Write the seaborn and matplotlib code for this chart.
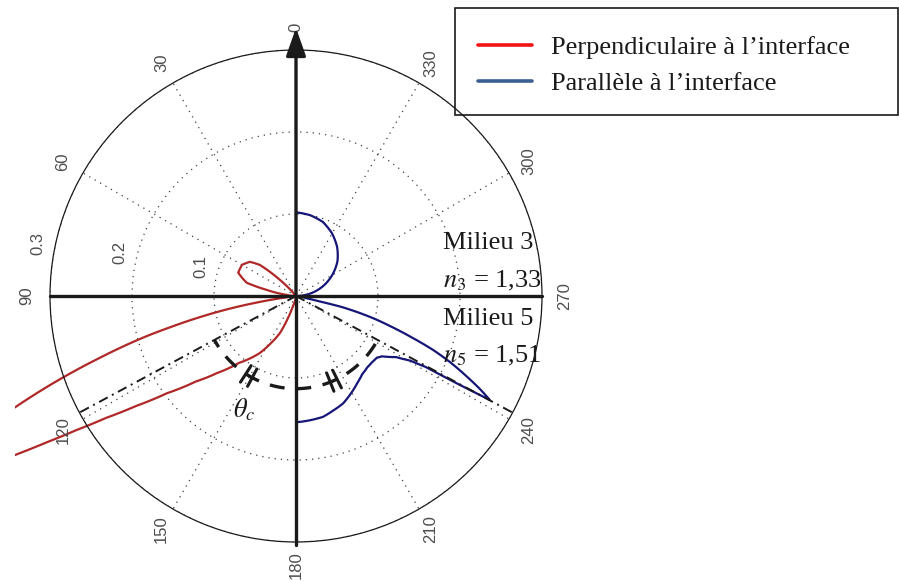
import numpy as np
import pandas as pd
import matplotlib
matplotlib.use("Agg")
import matplotlib.pyplot as plt
import seaborn as sns
from matplotlib.lines import Line2D
from matplotlib.patches import Rectangle

# Angles in degrees (0 = up, counter-clockwise), radius in polar units
red_theta = [40, 45, 49.3, 53.5, 60, 68, 75, 78.3, 83, 90, 97.9, 98.7, 99.8, 101.0,
             102.4, 103.9, 105.1, 106.4, 107.5, 109.1, 110.6, 111.6, 114, 116.5, 118,
             119.5, 120.4, 121.4, 122.7, 124.5, 127.0, 130.5, 134.3, 139.6, 147.7,
             152.0, 156.6, 160, 163.3, 170, 180]
red_r = [0.0, 0.028, 0.058, 0.070, 0.076, 0.076, 0.062, 0.036, 0.012, 0.0, 0.012,
         0.031, 0.057, 0.087, 0.120, 0.157, 0.190, 0.223, 0.251, 0.296, 0.339, 0.368,
         0.47, 0.56, 0.48, 0.394, 0.353, 0.314, 0.275, 0.237, 0.197, 0.1605, 0.1345,
         0.107, 0.082, 0.065, 0.049, 0.0286, 0.0127, 0.004, 0.0]

blue_theta = [180, 192.6, 197.8, 203.7, 208.9, 215, 220.2, 225, 229.0, 232.6, 234.9,
              238.6, 240.5, 241.3, 241.5, 241.8, 243.2, 244.7, 246.8, 248.5, 250.3,
              252.3, 253.8, 255.3, 256.6, 257.1, 258, 264, 270,
              280, 290, 300, 310, 320, 330, 340, 350, 360]
blue_r = [0.154, 0.151, 0.147, 0.143, 0.137, 0.130, 0.125, 0.123, 0.123, 0.124, 0.128,
          0.143, 0.160, 0.180, 0.225, 0.268, 0.251, 0.231, 0.204, 0.180, 0.150,
          0.120, 0.100, 0.077, 0.055, 0.030, 0.012, 0.004, 0.0,
          0.018, 0.035, 0.051, 0.066, 0.078, 0.088, 0.096, 0.100, 0.102]

theta_c = 61.7          # critical angle (deg)
arc_r = 0.113
ring_values = [0.1, 0.2, 0.3]
ring_labels = ["0.1", "0.2", "0.3"]
ring_label_angles = [73, 76, 78.4]
angle_ticks = list(range(0, 360, 30))
legend_labels = ["Perpendiculaire à l’interface", "Parallèle à l’interface"]

W, H = 899, 581
def fx(px):
    return px / W
def fy(py):
    return 1 - py / H

sns.set_theme(style="white")
plt.rcParams["font.family"] = ["Liberation Sans", "DejaVu Sans"]
plt.rcParams["mathtext.fontset"] = "stix"
plt.rcParams["text.color"] = "k"

fig = plt.figure(figsize=(W / 100, H / 100), dpi=100)
R = 246
ax = fig.add_axes([fx(296 - R), fy(296 + R), 2 * R / W, 2 * R / H], projection="polar")
ax.set_theta_zero_location("N")
ax.set_theta_direction(1)
ax.set_facecolor("none")

# curves
red_df = pd.DataFrame({"theta": np.deg2rad(red_theta), "r": red_r})
blue_df = pd.DataFrame({"theta": np.deg2rad(blue_theta), "r": blue_r})
sns.lineplot(data=red_df, x="theta", y="r", ax=ax, sort=False, estimator=None,
             color="#b02828", lw=1.6)
sns.lineplot(data=blue_df, x="theta", y="r", ax=ax, sort=False, estimator=None,
             color="#161678", lw=1.6)
# draw segments in polar space (smooth spirals) rather than straight chords
for ln in ax.lines[:2]:
    ln.get_path()._interpolation_steps = 25
# red lobe leaves the circle: clip it to the figure area instead
clip = Rectangle((fx(15), 0), 1, 1, transform=fig.transFigure)
ax.lines[0].set_clip_path(clip)

ax.set_xlabel("")
ax.set_ylabel("")
ax.set_rlim(0, 0.3)
ax.set_yticks(ring_values)
ax.set_yticklabels([])
ax.set_xticks(np.deg2rad(angle_ticks))
ax.set_xticklabels([])
ax.grid(True, color="0.25", lw=0.9, ls=(0, (1, 4)))
ax.spines["polar"].set_linewidth(0.9)
ax.spines["polar"].set_color("k")

# angle labels and ring labels (rotated, MATLAB style)
for a in angle_ticks:
    ax.text(np.deg2rad(a), 0.328, str(a), rotation=90, ha="center", va="center",
            fontsize=12, color="0.3")
for v, lab, a in zip(ring_values, ring_labels, ring_label_angles):
    ax.text(np.deg2rad(a), v + 0.021, lab, rotation=90, ha="center", va="center",
            fontsize=12, color="0.3")

# interface axes
ax.plot(np.deg2rad([90, 90, 270, 270]), [0.3, 0, 0, 0.3], color="k", lw=2.4,
        clip_on=False)
ax.plot(np.deg2rad([180, 180]), [0.304, 0], color="k", lw=2.4, clip_on=False)
ax.annotate("", xy=(0, 0.327), xytext=(0, 0), annotation_clip=False,
            arrowprops=dict(arrowstyle="-|>,head_length=0.85,head_width=0.3",
                            mutation_scale=20, lw=2.4, color="k",
                            shrinkA=0, shrinkB=0))

# critical angle lines and arc
for t in [180 - theta_c, 180 + theta_c]:
    ax.plot(np.deg2rad([t, t]), [0, 0.3], color="k", lw=1.4,
            ls=(0, (5, 2.5, 1, 2.5)))
arc_t = np.deg2rad(np.linspace(180 - theta_c, 180 + theta_c, 120))
ax.plot(arc_t, np.full(arc_t.size, arc_r), color="k", lw=2.4, ls=(2, (4.5, 3.5)))
for mid in [149.5, 204]:
    for d in [-2.3, 2.3]:
        ax.plot(np.deg2rad([mid + d, mid + d]), [arc_r - 0.012, arc_r + 0.012],
                color="k", lw=2.2)

serif = "Liberation Serif"
fig.text(fx(233), fy(417), r"$\theta_c$", fontsize=19, ha="left", va="baseline")
fig.text(fx(443), fy(249), "Milieu 3", family=serif, fontsize=19, va="baseline")
fig.text(fx(443), fy(287), r"$n_3$ = 1,33", family=serif, fontsize=19, va="baseline")
fig.text(fx(443), fy(325), "Milieu 5", family=serif, fontsize=19, va="baseline")
fig.text(fx(443), fy(362), r"$n_5$ = 1,51", family=serif, fontsize=19, va="baseline")

# legend
handles = [Line2D([], [], color="#f01414", lw=2.6), Line2D([], [], color="#3c5f91", lw=2.6)]
fig.legend(handles, legend_labels, loc="upper left", bbox_to_anchor=(fx(478), fy(36)),
           frameon=False, borderpad=0, borderaxespad=0, handlelength=2.05,
           handletextpad=0.72, labelspacing=0.45, prop={"family": serif, "size": 19})
fig.add_artist(Rectangle((fx(455), fy(115)), (898 - 455) / W, 107 / H,
                         transform=fig.transFigure, fill=False, ec="k", lw=1.2))

fig.savefig("out.png", dpi=100)
